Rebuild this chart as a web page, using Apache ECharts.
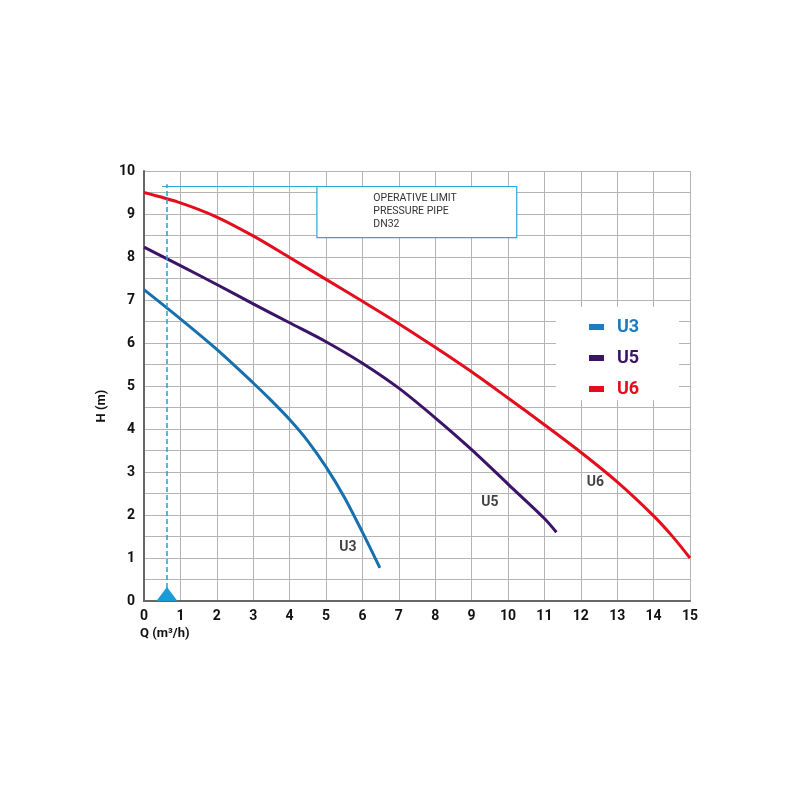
<!DOCTYPE html>
<html>
<head>
<meta charset="utf-8">
<script src="https://cdn.jsdelivr.net/npm/echarts@6/dist/echarts.min.js"></script>
<style>
  html, body { margin: 0; padding: 0; background: #fff; }
  #chart { width: 800px; height: 800px; }
</style>
</head>
<body>
<div id="chart"></div>
<script>
// curve data, Q (m3/h) -> H (m)
const u3Q = [0, 1, 2, 3, 3.5, 4, 4.5, 5, 5.5, 6, 6.48];
const u3H = [7.24, 6.56, 5.85, 5.07, 4.66, 4.22, 3.72, 3.12, 2.42, 1.6, 0.77];
const u5Q = [0, 1, 2, 3, 4, 5, 6, 7, 8, 9, 10, 11, 11.33];
const u5H = [8.23, 7.8, 7.36, 6.91, 6.47, 6.03, 5.53, 4.95, 4.26, 3.52, 2.72, 1.92, 1.6];
const u6Q = [0, 1, 2, 3, 4, 5, 6, 7, 8, 9, 10, 11, 12, 13, 14, 14.5, 15];
const u6H = [9.5, 9.26, 8.93, 8.49, 7.99, 7.48, 6.97, 6.45, 5.9, 5.33, 4.72, 4.1, 3.46, 2.77, 1.98, 1.52, 1.0];

// curve labels placed next to each curve
const curveNames = ["U3", "U5", "U6"];
const labelQ = [5.6, 9.5, 12.4];
const labelH = [1.25, 2.3, 2.75];

// operating limit marker
const limitQ = 0.63;
const limitH = 9.64;
const noteBox = [4.75, 10.24, 8.45, 9.64]; // q from, q to, h from, h to
const noteText = ["OPERATIVE LIMIT", "PRESSURE PIPE", "DN32"];

const colors = ["#1670ad", "#3b1468", "#e30d1b"];
const legendColors = ["#1a7dc0", "#3b1468", "#e30d1b"];

const pair = (xs, ys) => xs.map((x, i) => [x, ys[i]]);

const myChart = echarts.init(document.getElementById("chart"));

const font = "Roboto, 'DejaVu Sans', sans-serif";

const curve = (name, q, h, i) => ({
  name: name,
  type: "line",
  smooth: 0.3,
  showSymbol: false,
  data: pair(q, h),
  lineStyle: { color: colors[i], width: 3 },
  itemStyle: { color: legendColors[i] },
  z: 4,
});

const option = {
  animation: false,
  backgroundColor: "#fff",
  grid: { left: 144, right: 110, top: 171, bottom: 199 },
  xAxis: {
    type: "value",
    min: 0,
    max: 15,
    interval: 1,
    axisLine: { show: true, onZero: false, lineStyle: { color: "#666", width: 2 } },
    axisTick: { show: false },
    axisLabel: { color: "#111", fontWeight: "bold", fontSize: 14, fontFamily: font, margin: 8 },
    splitLine: { show: true, lineStyle: { color: "#b4b4b4", width: 1 } },
  },
  yAxis: {
    type: "value",
    min: 0,
    max: 10,
    interval: 0.5,
    name: "H (m)",
    nameLocation: "middle",
    nameGap: 28,
    nameTextStyle: { color: "#111", fontWeight: "bold", fontSize: 13, fontFamily: font, padding: [0, 40, 0, 0] },
    axisLine: { show: true, onZero: false, lineStyle: { color: "#666", width: 2 } },
    axisTick: { show: false },
    axisLabel: {
      color: "#111",
      fontWeight: "bold",
      fontSize: 14,
      fontFamily: font,
      margin: 9,
      formatter: (v) => (Number.isInteger(v) ? String(v) : ""),
    },
    splitLine: { show: true, lineStyle: { color: "#b4b4b4", width: 1 } },
  },
  legend: {
    orient: "vertical",
    left: 584,
    top: 313,
    itemWidth: 15,
    itemHeight: 6,
    itemGap: 13,
    icon: "rect",
    data: curveNames.map((n, i) => ({
      name: n,
      textStyle: { color: legendColors[i], fontWeight: "bold", fontSize: 18, fontFamily: font, padding: [0, 0, 0, 8] },
    })),
  },
  graphic: [
    // white box behind the legend
    { type: "rect", left: 556, top: 307, z: 3, shape: { width: 123, height: 93 }, style: { fill: "#fff" } },
    {
      type: "text",
      left: 140,
      top: 627,
      style: { text: "Q (m³/h)", fill: "#111", font: "bold 13px " + font },
    },
  ],
  series: [
    curve("U3", u3Q, u3H, 0),
    curve("U5", u5Q, u5H, 1),
    curve("U6", u6Q, u6H, 2),
    {
      // curve name labels
      type: "scatter",
      symbolSize: 0,
      data: curveNames.map((n, i) => ({ value: [labelQ[i], labelH[i]], name: n })),
      label: {
        show: true,
        position: "inside",
        formatter: "{b}",
        color: "#111",
        fontWeight: "bold",
        fontSize: 14,
        fontFamily: font,
      },
      z: 5,
    },
    {
      // operating limit: dashed line, note box, triangle
      type: "line",
      data: [],
      markLine: {
        silent: true,
        symbol: "none",
        label: { show: false },
        data: [
          [
            { coord: [limitQ, 0.3], lineStyle: { type: [5, 3], color: "#1fa3dc", width: 1.5 } },
            { coord: [limitQ, limitH + 0.05] },
          ],
          [
            { coord: [0.5, limitH], lineStyle: { type: "solid", color: "#29a8e0", width: 1.2 } },
            { coord: [noteBox[0], limitH] },
          ],
        ],
      },
      markArea: {
        silent: true,
        itemStyle: { color: "#fff", borderColor: "#29a8e0", borderWidth: 1.2 },
        label: {
          show: true,
          position: "insideTopLeft",
          offset: [52, 1],
          color: "#333",
          fontSize: 10.5,
          lineHeight: 13,
          fontFamily: font,
          formatter: noteText.join("\n"),
        },
        data: [[{ coord: [noteBox[0], noteBox[3]] }, { coord: [noteBox[1], noteBox[2]] }]],
      },
      markPoint: {
        silent: true,
        symbol: "triangle",
        symbolSize: [21, 14],
        symbolOffset: [0, -7],
        itemStyle: { color: "#1a9ad6" },
        label: { show: false },
        data: [{ coord: [limitQ, 0] }],
      },
      z: 3,
    },
  ],
};

myChart.setOption(option);
</script>
</body>
</html>
